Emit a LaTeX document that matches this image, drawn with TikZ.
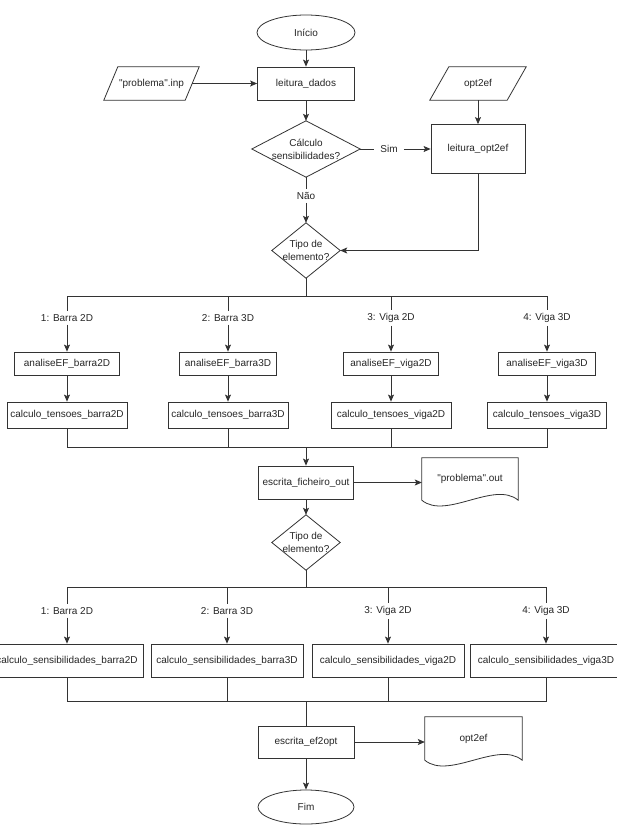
\documentclass[tikz,border=0pt]{standalone}
\usepackage{fontspec}
\setmainfont{Liberation Sans}[Ligatures=TeXOff]
\usetikzlibrary{shapes.geometric,arrows.meta,calc}
\begin{document}
\begin{tikzpicture}[x=1pt,y=-1pt,
  lc/.style={draw=black!80, line width=0.8pt},
  arr/.style={lc, -{Stealth[length=7pt,width=6pt,inset=1.5pt]}},
  txt/.style={font=\fontsize{10}{13}\selectfont, text=black!85, align=center},
  proc/.style={txt, lc, rectangle, inner sep=0pt},
  term/.style={txt, lc, ellipse, inner sep=0pt},
  ghost/.style={txt, rectangle, inner sep=0pt, draw=none},
  lbl/.style={txt, inner sep=3pt},
]
\useasboundingbox[fill=white] (0,0) rectangle (616,830);

% ---------- top part ----------
\node[term, minimum width=98pt, minimum height=35pt] (start) at (306,32.5) {Início};
\node[proc, minimum width=97pt, minimum height=33pt] (ld) at (306,83.5) {leitura\_dados};
\node[ghost, minimum width=81pt, minimum height=33pt] (inp) at (151.5,83.5) {"problema".inp};
\draw[lc] ($(inp.south west)+(-7,0)$) -- ($(inp.north west)+(7,0)$) -- ($(inp.north east)+(7,0)$) -- ($(inp.south east)+(-7,0)$) -- cycle;
\node[ghost, minimum width=108pt, minimum height=56pt] (calc) at (306,149) {Cálculo\\sensibilidades?};
\draw[lc] (calc.north) -- (calc.east) -- (calc.south) -- (calc.west) -- cycle;
\node[lbl, inner xsep=6pt] (sim) at (389,149) {Sim};
\node[proc, minimum width=94pt, minimum height=49pt] (lopt) at (478,149) {leitura\_opt2ef};
\node[ghost, minimum width=77pt, minimum height=33pt] (opt) at (478,83.5) {opt2ef};
\draw[lc] ($(opt.south west)+(-9.5,0)$) -- ($(opt.north west)+(9.5,0)$) -- ($(opt.north east)+(9.5,0)$) -- ($(opt.south east)+(-9.5,0)$) -- cycle;
\node[lbl] (nao) at (306,196) {Não};
\node[ghost, minimum width=68pt, minimum height=55pt] (tipo1) at (306,250.5) {Tipo de\\elemento?};
\draw[lc] (tipo1.north) -- (tipo1.east) -- (tipo1.south) -- (tipo1.west) -- cycle;

\draw[arr] (start) -- (ld);
\draw[arr] (inp) -- (ld);
\draw[arr] (ld) -- (calc);
\draw[lc] (calc.east) -- (sim);
\draw[arr] (sim) -- (lopt);
\draw[arr] (opt) -- (lopt);
\draw[lc] (calc.south) -- (nao);
\draw[arr] (nao) -- (tipo1);
\draw[arr] (lopt.south) |- (tipo1.east);

% ---------- first branch ----------
\coordinate (b1) at (306,296);
\node[lbl] (l11) at (67,318) {1: Barra 2D};
\node[lbl] (l12) at (228,318) {2: Barra 3D};
\node[lbl] (l13) at (391,318) {3: Viga 2D};
\node[lbl] (l14) at (547,318) {4: Viga 3D};
\node[proc, minimum width=105pt, minimum height=23pt] (a1) at (67,363.5) {analiseEF\_barra2D};
\node[proc, minimum width=97pt, minimum height=23pt] (a2) at (228,363.5) {analiseEF\_barra3D};
\node[proc, minimum width=95pt, minimum height=23pt] (a3) at (391,363.5) {analiseEF\_viga2D};
\node[proc, minimum width=97pt, minimum height=23pt] (a4) at (547,363.5) {analiseEF\_viga3D};
\node[proc, minimum width=120pt, minimum height=26pt] (t1) at (67,415) {calculo\_tensoes\_barra2D};
\node[proc, minimum width=120pt, minimum height=26pt] (t2) at (228,415) {calculo\_tensoes\_barra3D};
\node[proc, minimum width=120pt, minimum height=26pt] (t3) at (391,415) {calculo\_tensoes\_viga2D};
\node[proc, minimum width=119pt, minimum height=26pt] (t4) at (547,415) {calculo\_tensoes\_viga3D};

\draw[lc] (tipo1.south) -- (b1);
\foreach \i in {1,...,4}{
  \draw[lc] (b1) -| (l1\i);
  \draw[arr] (l1\i) -- (a\i);
  \draw[arr] (a\i) -- (t\i);
}

\coordinate (m1) at (306,447);
\node[proc, minimum width=95pt, minimum height=33pt] (esc) at (306,482.5) {escrita\_ficheiro\_out};
\foreach \i in {1,...,4}{ \draw[lc] (t\i.south) |- (m1); }
\draw[arr] (m1) -- (esc);

\node[ghost, minimum width=96pt, minimum height=42pt] (pout) at (470,479) {"problema".out};
\draw[lc] (pout.south west) -- (pout.north west) -- (pout.north east) -- (pout.south east)
  .. controls ($(pout.south east)+(-24,-20)$) and ($(pout.south west)+(24,20)$) .. (pout.south west) -- cycle;
\draw[arr] (esc.east) -- (esc.east -| pout.west);

\node[ghost, minimum width=68pt, minimum height=55pt] (tipo2) at (306,542.5) {Tipo de\\elemento?};
\draw[lc] (tipo2.north) -- (tipo2.east) -- (tipo2.south) -- (tipo2.west) -- cycle;
\draw[arr] (esc) -- (tipo2);

% ---------- second branch ----------
\coordinate (b2) at (306,587);
\node[lbl] (l21) at (67,611) {1: Barra 2D};
\node[lbl] (l22) at (227,611) {2: Barra 3D};
\node[lbl] (l23) at (388,611) {3: Viga 2D};
\node[lbl] (l24) at (546,611) {4: Viga 3D};
\node[proc, minimum width=152pt, minimum height=33pt] (s1) at (67,660.5) {calculo\_sensibilidades\_barra2D};
\node[proc, minimum width=152pt, minimum height=33pt] (s2) at (227,660.5) {calculo\_sensibilidades\_barra3D};
\node[proc, minimum width=152pt, minimum height=33pt] (s3) at (388,660.5) {calculo\_sensibilidades\_viga2D};
\node[proc, minimum width=152pt, minimum height=33pt] (s4) at (546,660.5) {calculo\_sensibilidades\_viga3D};

\draw[lc] (tipo2.south) -- (b2);
\foreach \i in {1,...,4}{
  \draw[lc] (b2) -| (l2\i);
  \draw[arr] (l2\i) -- (s\i);
}

\coordinate (m2) at (306,701);
\node[proc, minimum width=96pt, minimum height=32pt] (ef) at (306,742) {escrita\_ef2opt};
\foreach \i in {1,...,4}{ \draw[lc] (s\i.south) |- (m2); }
\draw[lc] (m2) -- (ef);

\node[ghost, minimum width=97pt, minimum height=43pt] (dopt) at (473.5,738.5) {opt2ef};
\draw[lc] (dopt.south west) -- (dopt.north west) -- (dopt.north east) -- (dopt.south east)
  .. controls ($(dopt.south east)+(-24,-20)$) and ($(dopt.south west)+(24,20)$) .. (dopt.south west) -- cycle;
\draw[arr] (ef.east) -- (ef.east -| dopt.west);

\node[term, minimum width=96pt, minimum height=34pt] (fim) at (306,807) {Fim};
\draw[arr] (ef) -- (fim);
\end{tikzpicture}
\end{document}
